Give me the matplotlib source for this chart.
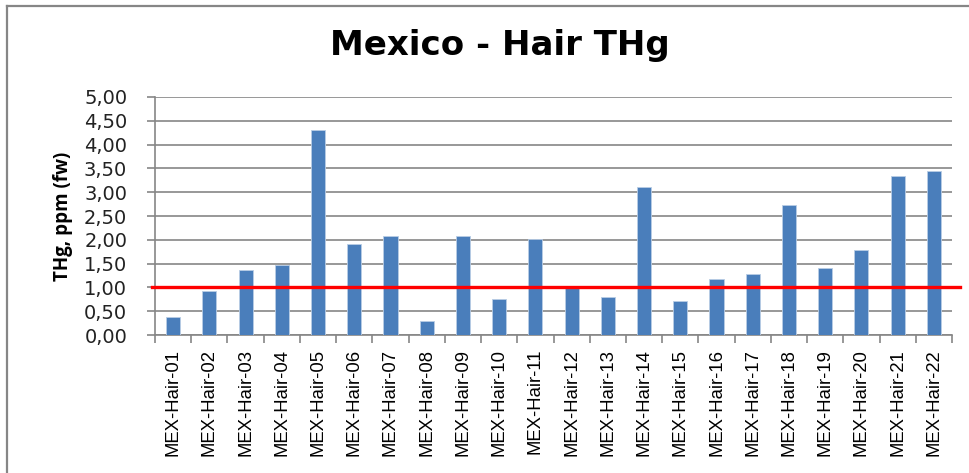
import matplotlib.pyplot as plt
from matplotlib.lines import Line2D

# Données
samples = ['MEX-Hair-%02d' % i for i in range(1, 23)]
thg = [0.37, 0.93, 1.37, 1.48, 4.31, 1.91, 2.07, 0.29, 2.07, 0.75, 2.01,
       0.98, 0.79, 3.11, 0.71, 1.18, 1.29, 2.74, 1.40, 1.78, 3.33, 3.44]
threshold = 1.0
yticks = [0, 0.5, 1, 1.5, 2, 2.5, 3, 3.5, 4, 4.5, 5]

fig = plt.figure(figsize=(9.70, 4.73), dpi=100)
ax = fig.add_axes([155 / 970, 1 - 335 / 473, 797 / 970, 238 / 473])

x = range(len(samples))
ax.bar(x, thg, width=0.39, color='#4a7ebb', edgecolor='#b9cde5', linewidth=0.6, zorder=3)
ax.axhline(threshold, xmin=-0.004, xmax=1.01, color='red', linewidth=2.4, zorder=4, clip_on=False)

ax.set_xlim(-0.5, len(samples) - 0.5)
ax.set_ylim(0, 5)
ax.set_yticks(yticks)
ax.set_yticklabels([('%.2f' % v).replace('.', ',') for v in yticks],
                   fontsize=14, family='DejaVu Sans', color='#222222')
ax.yaxis.grid(True, color='#868686', linewidth=1.2, zorder=0)

ax.set_xticks([i - 0.5 for i in range(len(samples) + 1)])
ax.set_xticklabels([])
ax.set_xticks(list(x), minor=True)
ax.set_xticklabels(samples, minor=True, rotation=90, fontsize=13.3, family='Liberation Sans')
ax.tick_params(axis='x', which='minor', length=0, pad=10)
ax.tick_params(axis='x', which='major', length=6, color='#868686', width=1.2)
ax.tick_params(axis='y', length=6, color='#868686', width=1.2, pad=14)

for s in ['top', 'right']:
    ax.spines[s].set_visible(False)
for s in ['left', 'bottom']:
    ax.spines[s].set_color('#868686')
    ax.spines[s].set_linewidth(1.2)

ax.set_ylabel('THg, ppm (fw)', fontsize=13.5, fontweight='bold', family='Open Sans', labelpad=8)
fig.text(500 / 970, 1 - 46 / 473, 'Mexico - Hair THg', ha='center', va='center',
         fontsize=24.5, fontweight='bold', family='DejaVu Sans')

# cadre du graphique
fig.add_artist(Line2D([7 / 970, 1], [1 - 6 / 473] * 2, color='#868686', linewidth=1.6))
fig.add_artist(Line2D([7 / 970] * 2, [0, 1 - 6 / 473], color='#868686', linewidth=1.6))

fig.savefig('out.png', dpi=100)
